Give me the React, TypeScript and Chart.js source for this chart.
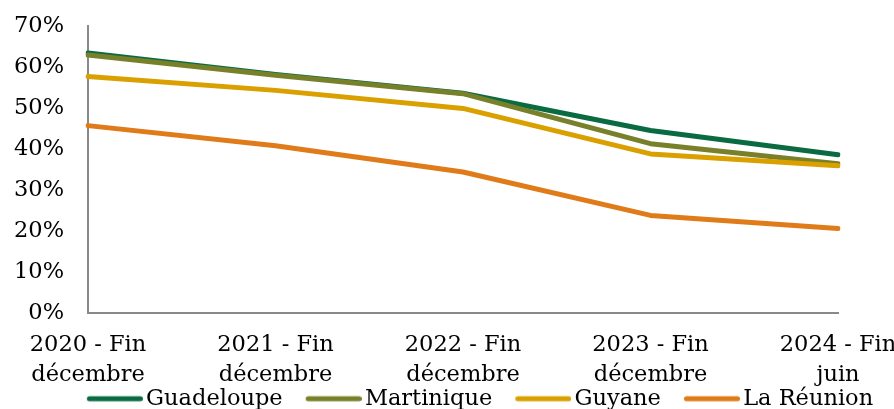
import React, { useEffect, useRef } from "react";
import { Chart, registerables } from "chart.js";

Chart.register(...registerables);

const categories: string[][] = [
  ["2020 - Fin", "décembre"],
  ["2021 - Fin", "décembre"],
  ["2022 - Fin", "décembre"],
  ["2023 - Fin", "décembre"],
  ["2024 - Fin", "juin"],
];

const guadeloupe = [63.4, 58.2, 53.6, 44.5, 38.6];
const martinique = [62.9, 58.0, 53.5, 41.3, 36.4];
const guyane = [57.7, 54.3, 49.9, 38.8, 35.9];
const reunion = [45.7, 40.8, 34.4, 23.8, 20.6];

const seriesNames = ["Guadeloupe", "Martinique", "Guyane", "La Réunion"];
const seriesColors = ["#0A6B42", "#78802A", "#D9A000", "#E07B1A"];

const FONT = "'DejaVu Serif', serif";
const FONT_SIZE = 22.5;

function legendLine(color: string): HTMLCanvasElement {
  const c = document.createElement("canvas");
  c.width = 64;
  c.height = 8;
  const ctx = c.getContext("2d")!;
  ctx.strokeStyle = color;
  ctx.lineWidth = 5;
  ctx.lineCap = "round";
  ctx.beginPath();
  ctx.moveTo(10.5, 4);
  ctx.lineTo(61.5, 4);
  ctx.stroke();
  return c;
}

export default function App() {
  const ref = useRef<HTMLCanvasElement | null>(null);

  useEffect(() => {
    if (!ref.current) return;
    const values = [guadeloupe, martinique, guyane, reunion];
    const legendShift = {
      id: "legendShift",
      afterLayout(chart: any) {
        const lg = chart.legend;
        if (lg) {
          lg.left += 26;
          lg.right += 26;
          lg.top -= 25;
          lg.bottom -= 25;
        }
      },
    };
    const chart = new Chart(ref.current, {
      type: "line",
      data: {
        labels: categories,
        datasets: values.map((v, i) => ({
          label: seriesNames[i],
          data: v,
          borderColor: seriesColors[i],
          backgroundColor: seriesColors[i],
          borderWidth: 5,
          borderCapStyle: "round" as const,
          borderJoinStyle: "round" as const,
          pointRadius: 0,
          pointStyle: legendLine(seriesColors[i]) as any,
          tension: 0,
          fill: false,
          order: 4 - i,
        })),
      },
      plugins: [legendShift],
      options: {
        animation: false,
        responsive: false,
        maintainAspectRatio: false,
        layout: { padding: { top: 18, left: 6, right: 0, bottom: 0 } },
        scales: {
          x: {
            offset: false,
            grid: {
              display: true,
              drawOnChartArea: false,
              drawTicks: true,
              tickLength: 18,
              color: "rgba(0,0,0,0)",
            },
            border: { display: true, color: "#898989", width: 2 },
            ticks: {
              color: "#000",
              font: { family: FONT, size: FONT_SIZE, lineHeight: 1.3 },
              padding: 0,
              maxRotation: 0,
              autoSkip: false,
            },
            afterFit: (scale: any) => {
              scale.paddingLeft = 0;
              scale.paddingRight = 56;
            },
          },
          y: {
            min: 0,
            max: 70,
            grid: { display: false, drawTicks: false },
            border: { display: true, color: "#898989", width: 2 },
            ticks: {
              stepSize: 10,
              color: "#000",
              font: { family: FONT, size: FONT_SIZE },
              padding: 24,
              callback: (v: any) => `${v}%`,
            },
            afterFit: (scale: any) => {
              scale.paddingTop = 0;
              scale.paddingBottom = 0;
              scale.width = scale.width - 24;
            },
          },
        },
        plugins: {
          tooltip: { enabled: false },
          legend: {
            position: "bottom",
            labels: {
              color: "#000",
              font: { family: FONT, size: FONT_SIZE },
              usePointStyle: true,
              pointStyleWidth: 48,
              boxHeight: 5,
              padding: 23,
              sort: (a: any, b: any) => a.datasetIndex - b.datasetIndex,
            },
          },
        },
      },
    });
    return () => chart.destroy();
  }, []);

  return (
    <div
      style={{
        position: "fixed",
        top: 8,
        left: 8,
        width: 886,
        height: 401,
        overflow: "hidden",
      }}
    >
      <canvas ref={ref} width={886} height={437} style={{ display: "block" }} />
    </div>
  );
}
